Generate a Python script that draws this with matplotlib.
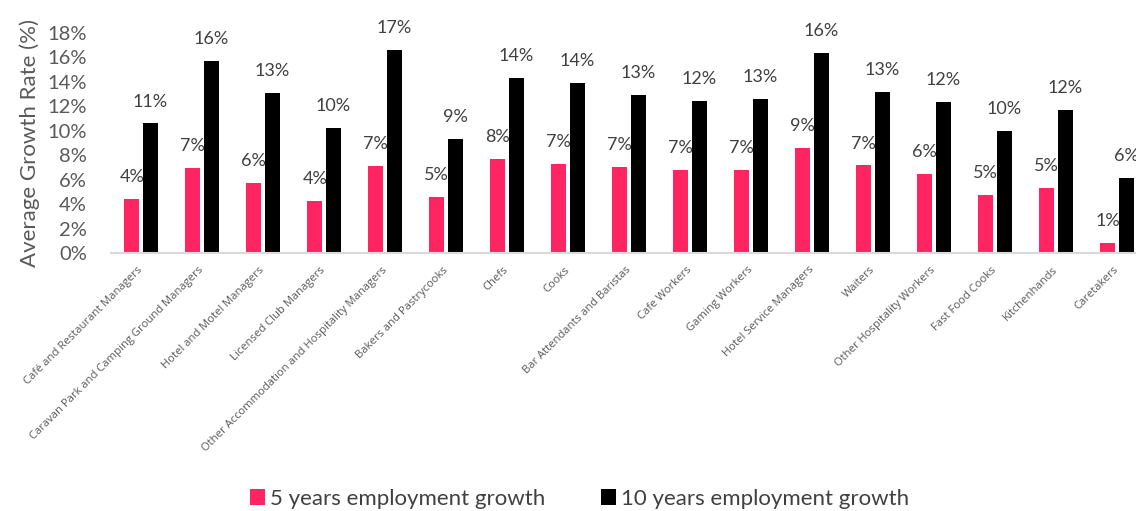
import matplotlib.pyplot as plt
import numpy as np

# Данные
occupations = [
    'Café and Restaurant Managers', 'Caravan Park and Camping Ground Managers',
    'Hotel and Motel Managers', 'Licensed Club Managers',
    'Other Accommodation and Hospitality Managers', 'Bakers and Pastrycooks',
    'Chefs', 'Cooks', 'Bar Attendants and Baristas', 'Cafe Workers',
    'Gaming Workers', 'Hotel Service Managers', 'Waiters',
    'Other Hospitality Workers', 'Fast Food Cooks', 'Kitchenhands', 'Caretakers',
]
growth_5y = [4.45, 6.94, 5.74, 4.26, 7.13, 4.6, 7.68, 7.27, 7.05, 6.78,
             6.78, 8.6, 7.16, 6.45, 4.75, 5.33, 0.82]
growth_10y = [10.6, 15.71, 13.1, 10.25, 16.6, 9.34, 14.29, 13.93, 12.93, 12.45,
              12.6, 16.37, 13.17, 12.35, 9.97, 11.7, 6.17]
yticks = [0, 2, 4, 6, 8, 10, 12, 14, 16, 18]

plt.rcParams['font.family'] = ['Lato', 'DejaVu Sans']
pink = '#FF2462'
grey = '#595959'

fig = plt.figure(figsize=(11.36, 5.11), dpi=100)
# ось немного выходит за правый край, как в оригинале
ax = fig.add_axes([110.5 / 1136, 258 / 511, 1037 / 1136, 220 / 511])

x = np.arange(len(occupations))
w = 0.25
b1 = ax.bar(x - 0.15, growth_5y, w, color=pink, label='5 years employment growth')
b2 = ax.bar(x + 0.15, growth_10y, w, color='black', label='10 years employment growth')

for bars, vals in [(b1, growth_5y), (b2, growth_10y)]:
    for rect, v in zip(bars, vals):
        ax.annotate(f'{round(v)}%', (rect.get_x() + rect.get_width() / 2, v),
                    xytext=(0, 10), textcoords='offset points',
                    ha='center', va='bottom', fontsize=13, color='#404040')

ax.set_xlim(-0.5, len(occupations) - 0.5)
ax.set_ylim(0, 18)
ax.set_yticks(yticks)
ax.set_yticklabels([f'{t}%' for t in yticks], fontsize=14.5, color=grey)
ax.set_xticks(x)
ax.set_xticklabels(occupations, rotation=45, ha='right', va='center',
                   rotation_mode='anchor', fontsize=8.1, color=grey,
                   family=['Open Sans', 'DejaVu Sans'])
ax.tick_params(axis='y', length=0, pad=17)
ax.tick_params(axis='x', length=0, pad=11)
ax.set_ylabel('Average Growth Rate (%)', fontsize=16, color=grey, labelpad=5)

for s in ['top', 'right', 'left']:
    ax.spines[s].set_visible(False)
ax.spines['bottom'].set_color('#d9d9d9')
ax.spines['bottom'].set_linewidth(1.5)

fig.legend(loc='lower center', bbox_to_anchor=(0.51, -0.035), ncol=2, frameon=False,
           fontsize=16, handlelength=0.7, handleheight=0.7, handletextpad=0.2,
           columnspacing=2.5, labelcolor='#404040')

plt.savefig('out.png', dpi=100)
